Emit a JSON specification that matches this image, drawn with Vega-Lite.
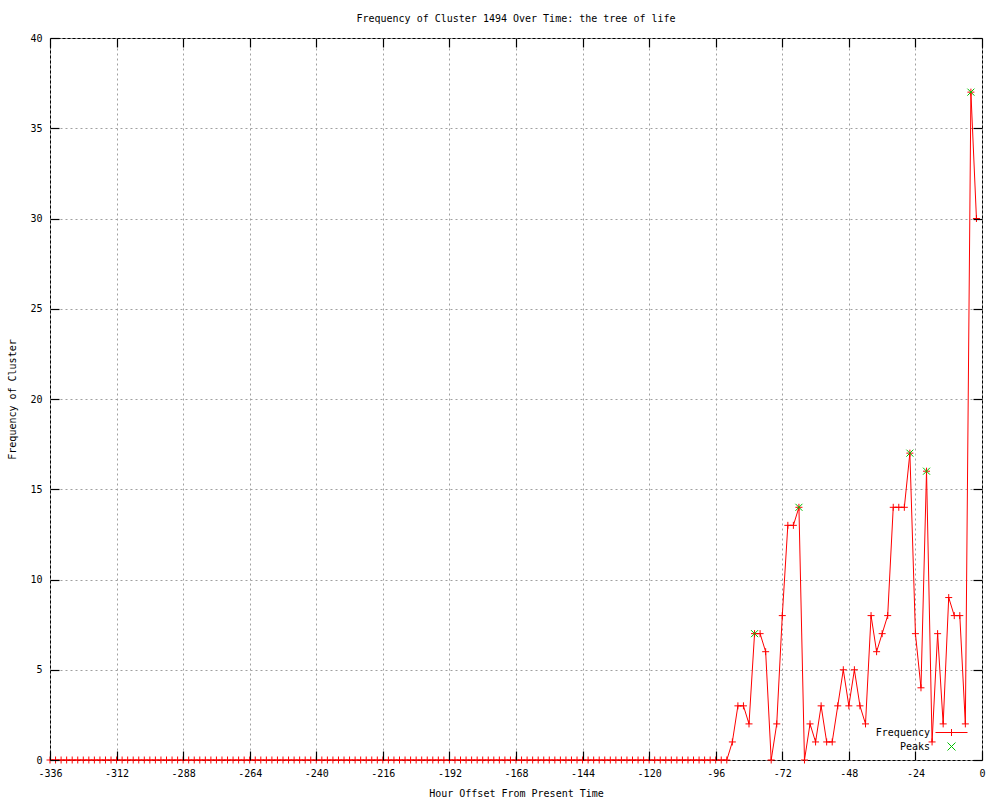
{
  "$schema": "https://vega.github.io/schema/vega-lite/v6.json",
  "autosize": "none",
  "width": 932,
  "height": 722,
  "padding": {"left": 50, "top": 38, "right": 18, "bottom": 40},
  "background": "white",
  "title": {"text": "Frequency of Cluster 1494 Over Time: the tree of life", "font": "DejaVu Sans Mono", "fontSize": 10, "fontWeight": "normal", "color": "black", "anchor": "middle", "offset": 9},
  "config": {
    "view": {"stroke": "black", "strokeWidth": 1},
    "axis": {"labelFont": "DejaVu Sans Mono", "labelFontSize": 10, "labelColor": "black", "titleFont": "DejaVu Sans Mono", "titleFontSize": 10, "titleFontWeight": "normal", "titleColor": "black", "domain": false, "tickColor": "#000000", "tickOpacity": 1, "tickWidth": 1.2, "tickSize": 9, "labelFlush": false, "labelOverlap": false, "gridColor": "#a0a0a0", "gridDash": [2, 3], "gridOpacity": 1}
  },
  "datasets": {
    "freq": [
      {"h": -336, "f": 0}, {"h": -334, "f": 0}, {"h": -332, "f": 0}, {"h": -330, "f": 0}, {"h": -328, "f": 0}, {"h": -326, "f": 0}, {"h": -324, "f": 0}, {"h": -322, "f": 0}, {"h": -320, "f": 0}, {"h": -318, "f": 0}, {"h": -316, "f": 0}, {"h": -314, "f": 0},
      {"h": -312, "f": 0}, {"h": -310, "f": 0}, {"h": -308, "f": 0}, {"h": -306, "f": 0}, {"h": -304, "f": 0}, {"h": -302, "f": 0}, {"h": -300, "f": 0}, {"h": -298, "f": 0}, {"h": -296, "f": 0}, {"h": -294, "f": 0}, {"h": -292, "f": 0}, {"h": -290, "f": 0},
      {"h": -288, "f": 0}, {"h": -286, "f": 0}, {"h": -284, "f": 0}, {"h": -282, "f": 0}, {"h": -280, "f": 0}, {"h": -278, "f": 0}, {"h": -276, "f": 0}, {"h": -274, "f": 0}, {"h": -272, "f": 0}, {"h": -270, "f": 0}, {"h": -268, "f": 0}, {"h": -266, "f": 0},
      {"h": -264, "f": 0}, {"h": -262, "f": 0}, {"h": -260, "f": 0}, {"h": -258, "f": 0}, {"h": -256, "f": 0}, {"h": -254, "f": 0}, {"h": -252, "f": 0}, {"h": -250, "f": 0}, {"h": -248, "f": 0}, {"h": -246, "f": 0}, {"h": -244, "f": 0}, {"h": -242, "f": 0},
      {"h": -240, "f": 0}, {"h": -238, "f": 0}, {"h": -236, "f": 0}, {"h": -234, "f": 0}, {"h": -232, "f": 0}, {"h": -230, "f": 0}, {"h": -228, "f": 0}, {"h": -226, "f": 0}, {"h": -224, "f": 0}, {"h": -222, "f": 0}, {"h": -220, "f": 0}, {"h": -218, "f": 0},
      {"h": -216, "f": 0}, {"h": -214, "f": 0}, {"h": -212, "f": 0}, {"h": -210, "f": 0}, {"h": -208, "f": 0}, {"h": -206, "f": 0}, {"h": -204, "f": 0}, {"h": -202, "f": 0}, {"h": -200, "f": 0}, {"h": -198, "f": 0}, {"h": -196, "f": 0}, {"h": -194, "f": 0},
      {"h": -192, "f": 0}, {"h": -190, "f": 0}, {"h": -188, "f": 0}, {"h": -186, "f": 0}, {"h": -184, "f": 0}, {"h": -182, "f": 0}, {"h": -180, "f": 0}, {"h": -178, "f": 0}, {"h": -176, "f": 0}, {"h": -174, "f": 0}, {"h": -172, "f": 0}, {"h": -170, "f": 0},
      {"h": -168, "f": 0}, {"h": -166, "f": 0}, {"h": -164, "f": 0}, {"h": -162, "f": 0}, {"h": -160, "f": 0}, {"h": -158, "f": 0}, {"h": -156, "f": 0}, {"h": -154, "f": 0}, {"h": -152, "f": 0}, {"h": -150, "f": 0}, {"h": -148, "f": 0}, {"h": -146, "f": 0},
      {"h": -144, "f": 0}, {"h": -142, "f": 0}, {"h": -140, "f": 0}, {"h": -138, "f": 0}, {"h": -136, "f": 0}, {"h": -134, "f": 0}, {"h": -132, "f": 0}, {"h": -130, "f": 0}, {"h": -128, "f": 0}, {"h": -126, "f": 0}, {"h": -124, "f": 0}, {"h": -122, "f": 0},
      {"h": -120, "f": 0}, {"h": -118, "f": 0}, {"h": -116, "f": 0}, {"h": -114, "f": 0}, {"h": -112, "f": 0}, {"h": -110, "f": 0}, {"h": -108, "f": 0}, {"h": -106, "f": 0}, {"h": -104, "f": 0}, {"h": -102, "f": 0}, {"h": -100, "f": 0}, {"h": -98, "f": 0},
      {"h": -96, "f": 0}, {"h": -94, "f": 0}, {"h": -92, "f": 0}, {"h": -90, "f": 1}, {"h": -88, "f": 3}, {"h": -86, "f": 3}, {"h": -84, "f": 2}, {"h": -82, "f": 7}, {"h": -80, "f": 7}, {"h": -78, "f": 6}, {"h": -76, "f": 0}, {"h": -74, "f": 2},
      {"h": -72, "f": 8}, {"h": -70, "f": 13}, {"h": -68, "f": 13}, {"h": -66, "f": 14}, {"h": -64, "f": 0}, {"h": -62, "f": 2}, {"h": -60, "f": 1}, {"h": -58, "f": 3}, {"h": -56, "f": 1}, {"h": -54, "f": 1}, {"h": -52, "f": 3}, {"h": -50, "f": 5},
      {"h": -48, "f": 3}, {"h": -46, "f": 5}, {"h": -44, "f": 3}, {"h": -42, "f": 2}, {"h": -40, "f": 8}, {"h": -38, "f": 6}, {"h": -36, "f": 7}, {"h": -34, "f": 8}, {"h": -32, "f": 14}, {"h": -30, "f": 14}, {"h": -28, "f": 14}, {"h": -26, "f": 17},
      {"h": -24, "f": 7}, {"h": -22, "f": 4}, {"h": -20, "f": 16}, {"h": -18, "f": 1}, {"h": -16, "f": 7}, {"h": -14, "f": 2}, {"h": -12, "f": 9}, {"h": -10, "f": 8}, {"h": -8, "f": 8}, {"h": -6, "f": 2}, {"h": -4, "f": 37}, {"h": -2, "f": 30}
    ],
    "peaks": [
      {"h": -82, "f": 7}, {"h": -66, "f": 14}, {"h": -26, "f": 17}, {"h": -20, "f": 16}, {"h": -4, "f": 37}
    ],
    "legend": [
      {"series": "Frequency"}, {"series": "Peaks"}
    ]
  },
  "layer": [
    {
      "data": {"name": "freq"},
      "mark": {"type": "line", "color": "#ff0000", "strokeWidth": 1, "clip": false},
      "encoding": {
        "x": {"field": "h", "type": "quantitative", "scale": {"domain": [-336, 0], "nice": false, "zero": false},
          "axis": {"values": [-336, -312, -288, -264, -240, -216, -192, -168, -144, -120, -96, -72, -48, -24, 0], "labelExpr": "'' + datum.value", "title": "Hour Offset From Present Time", "grid": true, "ticks": false, "labelPadding": 8, "titlePadding": 10}},
        "y": {"field": "f", "type": "quantitative", "scale": {"domain": [0, 40], "nice": false},
          "axis": {"values": [0, 5, 10, 15, 20, 25, 30, 35, 40], "title": "Frequency of Cluster", "grid": true, "ticks": false, "labelPadding": 8, "titlePadding": 12}}
      }
    },
    {
      "data": {"name": "freq"},
      "mark": {"type": "point", "shape": "M-1,0H1M0,-1V1", "filled": false, "color": "#ff0000", "strokeWidth": 1, "size": 49, "opacity": 1, "clip": false},
      "encoding": {
        "x": {"field": "h", "type": "quantitative", "axis": {"orient": "top", "offset": -722, "zindex": 1, "ticks": true, "values": [-336, -312, -288, -264, -240, -216, -192, -168, -144, -120, -96, -72, -48, -24, 0], "labels": false, "title": null, "grid": false}},
        "y": {"field": "f", "type": "quantitative", "axis": {"orient": "right", "offset": -932, "zindex": 1, "ticks": true, "values": [0, 5, 10, 15, 20, 25, 30, 35, 40], "labels": false, "title": null, "grid": false}}
      }
    },
    {
      "data": {"name": "peaks"},
      "mark": {"type": "point", "shape": "M-1,-1L1,1M-1,1L1,-1", "filled": false, "color": "#00c000", "strokeWidth": 1, "size": 49, "opacity": 1, "clip": false},
      "encoding": {
        "x": {"field": "h", "type": "quantitative", "axis": {"orient": "bottom", "offset": -722, "zindex": 1, "ticks": true, "values": [-336, -312, -288, -264, -240, -216, -192, -168, -144, -120, -96, -72, -48, -24, 0], "labels": false, "title": null, "grid": false}},
        "y": {"field": "f", "type": "quantitative", "axis": {"orient": "left", "offset": -932, "zindex": 1, "ticks": true, "values": [0, 5, 10, 15, 20, 25, 30, 35, 40], "labels": false, "title": null, "grid": false}}
      }
    },
    {
      "data": {"name": "legend"},
      "mark": {"type": "point", "filled": false, "opacity": 0, "strokeWidth": 1},
      "encoding": {
        "color": {"field": "series", "type": "nominal", "scale": {"domain": ["Frequency", "Peaks"], "range": ["#ff0000", "#00c000"]},
          "legend": {"orient": "none", "legendX": 896, "legendY": 689, "title": null, "labelFont": "DejaVu Sans Mono", "labelFontSize": 10, "labelColor": "black", "labelAlign": "right", "labelOffset": -27, "symbolSize": 100, "symbolOpacity": 1, "symbolStrokeWidth": 1, "rowPadding": 2, "symbolFillColor": "transparent",
            "encode": {"symbols": {"update": {"opacity": {"value": 1}, "strokeOpacity": {"value": 1}, "stroke": {"scale": "color", "field": "value"}}}}}},
        "shape": {"field": "series", "type": "nominal", "scale": {"domain": ["Frequency", "Peaks"], "range": ["M-3.2,0H3.2M0,-0.7V0.7", "M-0.8,-0.8L0.8,0.8M-0.8,0.8L0.8,-0.8"]}}
      }
    }
  ],
  "resolve": {"axis": {"x": "independent", "y": "independent"}}
}
